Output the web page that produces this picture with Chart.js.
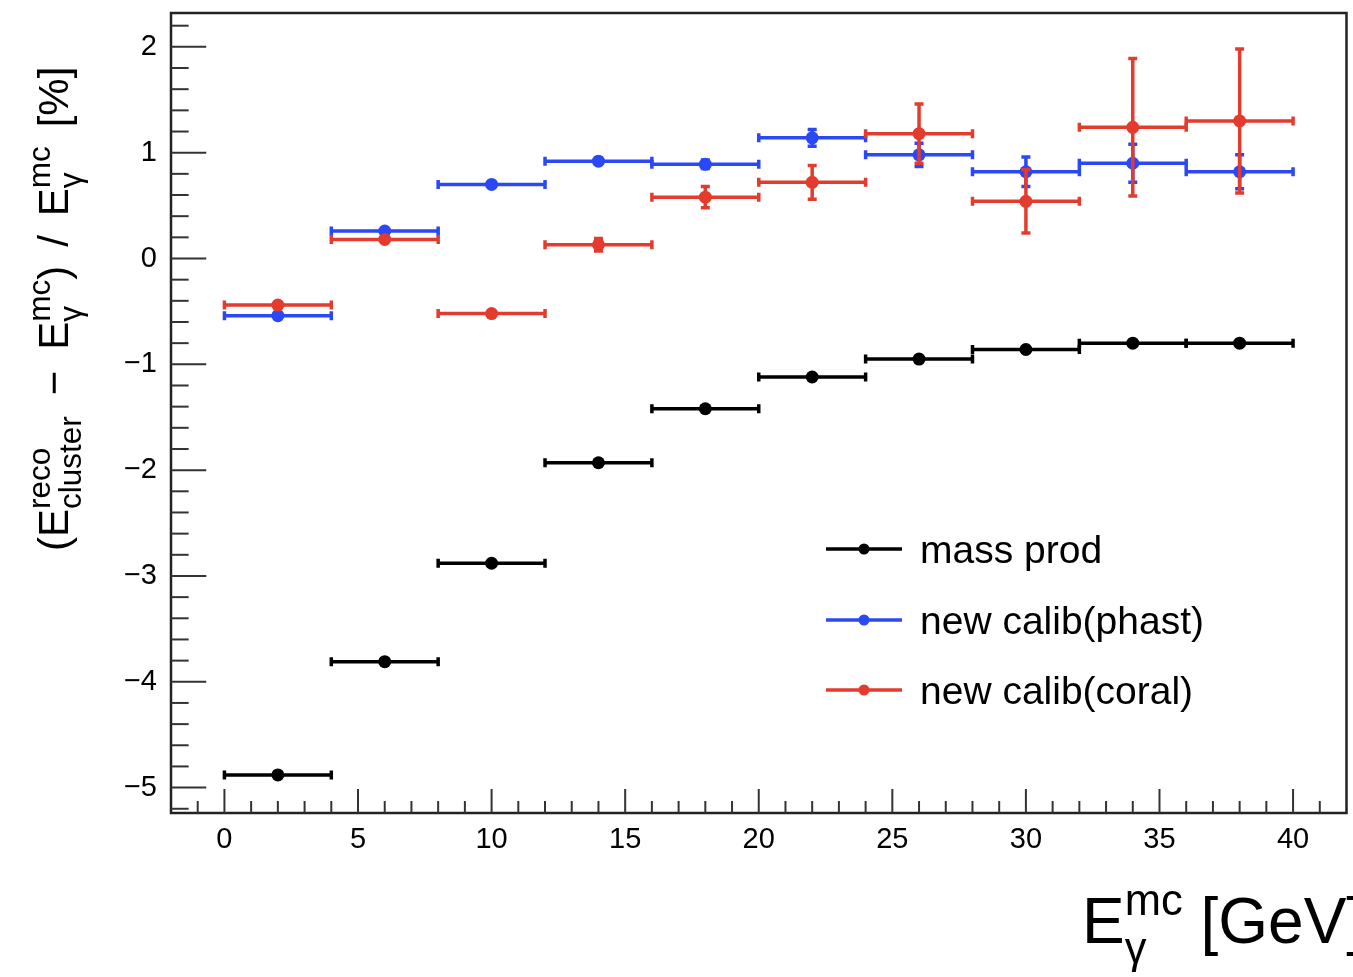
<!DOCTYPE html>
<html lang="en">
<head>
<meta charset="UTF-8">
<title>Cluster energy residual vs. photon energy</title>
<style>
    html, body { margin: 0; padding: 0; background: #fff; }
    #wrap { width: 1353px; height: 977px; }
</style>
</head>
<body>
<div id="wrap"><canvas id="residual-chart" width="1353" height="977"></canvas></div>
<script src="https://cdn.jsdelivr.net/npm/chart.js"></script>
<script>
// Energy bins (GeV): centres and half width
const binCenters = [2, 6, 10, 14, 18, 22, 26, 30, 34, 38];
const binHalfWidth = 2;

// Mean residual in % for each bin, with errors
const massProd    = [-4.88, -3.81, -2.88, -1.93, -1.42, -1.12, -0.95, -0.86, -0.80, -0.80];
const massProdErr = [0.01, 0.01, 0.01, 0.01, 0.01, 0.01, 0.01, 0.01, 0.01, 0.01];
const phast       = [-0.54, 0.26, 0.70, 0.92, 0.89, 1.14, 0.98, 0.82, 0.90, 0.82];
const phastErr    = [0.02, 0.02, 0.02, 0.03, 0.04, 0.08, 0.11, 0.14, 0.18, 0.16];
const coral       = [-0.44, 0.18, -0.52, 0.13, 0.58, 0.72, 1.18, 0.54, 1.24, 1.30];
const coralErr    = [0.02, 0.02, 0.02, 0.06, 0.10, 0.16, 0.28, 0.30, 0.65, 0.68];

const xTickValues = [0, 5, 10, 15, 20, 25, 30, 35, 40];
const yTickValues = [-5, -4, -3, -2, -1, 0, 1, 2];

const FONT = "'Liberation Sans', Arial, Helvetica, sans-serif";

function toPoints(ys, errs) {
    return binCenters.map((x, i) => ({ x: x, y: ys[i], xerr: binHalfWidth, yerr: errs[i] }));
}

// draws text runs with stacked super/subscripts, returns total width
function richText(ctx, runs, size, script, x0, y0) {
    let x = x0;
    runs.forEach(r => {
        if (r.gap !== undefined) {
            x += r.gap * size;
        } else if (r.t !== undefined) {
            ctx.font = size + 'px ' + FONT;
            ctx.fillText(r.t, x, y0);
            x += ctx.measureText(r.t).width;
        } else {
            const s = size * script;
            ctx.font = s + 'px ' + FONT;
            const wSup = r.sup ? ctx.measureText(r.sup).width : 0;
            const wSub = r.sub ? ctx.measureText(r.sub).width : 0;
            if (r.sup) ctx.fillText(r.sup, x, y0 - size * 0.44);
            if (r.sub) ctx.fillText(r.sub, x, y0 + size * 0.32);
            x += Math.max(wSup, wSub);
        }
    });
    return x - x0;
}

// ROOT-like frame, inward ticks and axis titles
const framePlugin = {
    id: 'frame',
    afterDraw(chart) {
        const ctx = chart.ctx;
        const a = chart.chartArea;
        const xs = chart.scales.x, ys = chart.scales.y;
        ctx.save();
        ctx.strokeStyle = '#222';
        ctx.lineWidth = 2.5;
        ctx.strokeRect(a.left, a.top, a.right - a.left, a.bottom - a.top);

        ctx.lineWidth = 2;
        ctx.strokeStyle = '#333';
        const xMajor = (a.bottom - a.top) * 0.03;
        for (let v = Math.ceil(xs.min); v <= Math.floor(xs.max); v++) {
            if (v <= xs.min || v >= xs.max) continue;
            const px = xs.getPixelForValue(v);
            const len = xTickValues.includes(v) ? xMajor : xMajor / 2;
            ctx.beginPath();
            ctx.moveTo(px, a.bottom);
            ctx.lineTo(px, a.bottom - len);
            ctx.stroke();
        }
        const yMajor = (a.right - a.left) * 0.03;
        for (let k = -26; k <= 11; k++) {
            const v = k * 0.2;
            if (v <= ys.min || v >= ys.max) continue;
            const py = ys.getPixelForValue(v);
            const len = k % 5 === 0 ? yMajor : yMajor / 2;
            ctx.beginPath();
            ctx.moveTo(a.left, py);
            ctx.lineTo(a.left + len, py);
            ctx.stroke();
        }

        ctx.fillStyle = '#000';
        ctx.textBaseline = 'alphabetic';
        ctx.textAlign = 'left';
        richText(ctx, [{ t: 'E' }, { sup: 'mc', sub: '\u03b3' }, { t: ' [GeV]' }], 64, 0.68, 1082, 943);

        ctx.translate(68, 551);
        ctx.rotate(-Math.PI / 2);
        richText(ctx, [
            { t: '(E' }, { sup: 'reco', sub: 'cluster' },
            { gap: 0.5 }, { t: '\u2212' }, { gap: 0.5 }, { t: 'E' }, { sup: 'mc', sub: '\u03b3' },
            { t: ')' }, { gap: 0.45 }, { t: '/' }, { gap: 0.45 }, { t: 'E' }, { sup: 'mc', sub: '\u03b3' },
            { gap: 0.45 }, { t: '[%]' }
        ], 42, 0.75, 0, 0);
        ctx.restore();
    }
};

// horizontal and vertical error bars with end marks
const errorBarPlugin = {
    id: 'errorBars',
    afterDatasetDraw(chart, args) {
        const ctx = chart.ctx;
        const ds = chart.data.datasets[args.index];
        const xs = chart.scales.x, ys = chart.scales.y;
        ctx.save();
        ctx.strokeStyle = ds.backgroundColor;
        ctx.lineWidth = 3.5;
        ds.data.forEach(p => {
            const x0 = xs.getPixelForValue(p.x - p.xerr);
            const x1 = xs.getPixelForValue(p.x + p.xerr);
            const xc = xs.getPixelForValue(p.x);
            const yc = ys.getPixelForValue(p.y);
            const y0 = ys.getPixelForValue(p.y - p.yerr);
            const y1 = ys.getPixelForValue(p.y + p.yerr);
            ctx.beginPath();
            ctx.moveTo(x0, yc); ctx.lineTo(x1, yc);
            ctx.moveTo(x0, yc - 4.5); ctx.lineTo(x0, yc + 4.5);
            ctx.moveTo(x1, yc - 4.5); ctx.lineTo(x1, yc + 4.5);
            ctx.moveTo(xc, y0); ctx.lineTo(xc, y1);
            ctx.moveTo(xc - 4.5, y0); ctx.lineTo(xc + 4.5, y0);
            ctx.moveTo(xc - 4.5, y1); ctx.lineTo(xc + 4.5, y1);
            ctx.stroke();
        });
        ctx.restore();
    }
};

// legend box inside the frame
const legendPlugin = {
    id: 'rootLegend',
    afterDraw(chart) {
        const ctx = chart.ctx;
        ctx.save();
        const rows = [549, 620, 690];
        [0, 1, 2].forEach((i, r) => {
            const ds = chart.data.datasets[i];
            const y = rows[r];
            ctx.strokeStyle = ds.backgroundColor;
            ctx.fillStyle = ds.backgroundColor;
            ctx.lineWidth = 3.5;
            ctx.beginPath();
            ctx.moveTo(826, y); ctx.lineTo(902, y);
            ctx.stroke();
            ctx.beginPath();
            ctx.arc(864, y, 5.5, 0, Math.PI * 2);
            ctx.fill();
            ctx.fillStyle = '#000';
            ctx.font = '39px ' + FONT;
            ctx.textBaseline = 'alphabetic';
            ctx.fillText(ds.label, 920, y + 14);
        });
        ctx.restore();
    }
};

const tickFont = { family: FONT, size: 29 };

new Chart(document.getElementById('residual-chart').getContext('2d'), {
    type: 'scatter',
    data: {
        datasets: [
            { label: 'mass prod', data: toPoints(massProd, massProdErr), backgroundColor: '#000000', order: 3 },
            { label: 'new calib(phast)', data: toPoints(phast, phastErr), backgroundColor: '#2a48f5', order: 2 },
            { label: 'new calib(coral)', data: toPoints(coral, coralErr), backgroundColor: '#e43b2f', order: 1 }
        ]
    },
    options: {
        responsive: false,
        animation: false,
        devicePixelRatio: 1,
        layout: { padding: { top: 13, right: 3, left: 0, bottom: 0 } },
        elements: { point: { radius: 6.5, borderWidth: 0, hoverRadius: 6.5 } },
        plugins: { legend: { display: false }, tooltip: { enabled: false } },
        scales: {
            x: {
                type: 'linear', min: -2, max: 42,
                grid: { display: false }, border: { display: false },
                afterBuildTicks: s => { s.ticks = xTickValues.map(v => ({ value: v })); },
                afterFit: s => { s.height = 164; s.paddingLeft = 0; s.paddingRight = 0; },
                ticks: { font: tickFont, color: '#000', padding: 2, maxRotation: 0, autoSkip: false }
            },
            y: {
                type: 'linear', min: -5.24, max: 2.32,
                grid: { display: false }, border: { display: false },
                afterBuildTicks: s => { s.ticks = yTickValues.map(v => ({ value: v })); },
                afterFit: s => { s.width = 171; s.paddingTop = 0; s.paddingBottom = 0; },
                ticks: {
                    font: tickFont, color: '#000', padding: 6, autoSkip: false,
                    callback: v => (v < 0 ? '\u2212' + Math.abs(v) : String(v))
                }
            }
        }
    },
    plugins: [errorBarPlugin, framePlugin, legendPlugin]
});
</script>
</body>
</html>
